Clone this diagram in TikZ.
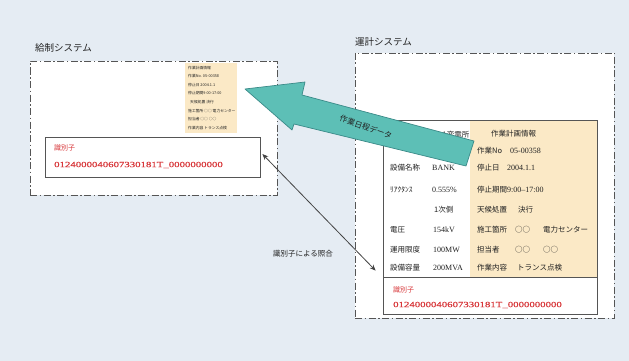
\documentclass[tikz,border=0pt]{standalone}
\usepackage{fontspec}
\setmainfont{Liberation Serif}
\newfontfamily\jp{Noto Sans CJK JP}
\newfontfamily\widenum[FakeStretch=1.35,FakeBold=0.6]{Liberation Serif}
\usetikzlibrary{arrows.meta}
\definecolor{bgc}{HTML}{E5ECF3}
\definecolor{framec}{HTML}{555555}
\definecolor{orangec}{HTML}{FBE9C6}
\definecolor{tealc}{HTML}{5DBFB6}
\definecolor{tealdark}{HTML}{3A8A88}
\definecolor{redc}{HTML}{D8373A}
\definecolor{txtc}{HTML}{222222}
\tikzset{
  panel/.style={draw=framec, fill=white, line width=0.8pt,
    dash pattern=on 7pt off 2.5pt on 1.5pt off 2.5pt, inner sep=0pt},
  solidbox/.style={draw=framec, line width=0.8pt, inner sep=0pt},
  orangebox/.style={fill=orangec, inner sep=0pt},
  title/.style={font=\jp\fontsize{9.5}{10}\selectfont, text=txtc, anchor=west, inner sep=0pt},
  lab/.style={font=\jp\fontsize{7.5}{8}\selectfont, text=txtc, anchor=west, inner sep=0pt},
  val/.style={font=\fontsize{8}{9}\selectfont, text=txtc, anchor=west, inner sep=0pt},
  tiny/.style={font=\jp\fontsize{3.8}{4}\selectfont, text=txtc, anchor=west, inner sep=0pt},
  idlab/.style={font=\jp\fontsize{7}{8}\selectfont, text=redc, anchor=west, inner sep=0pt},
  idnum/.style={font=\widenum\fontsize{8}{9}\selectfont, text=redc, anchor=west, inner sep=0pt},
  bigarrow/.style={fill=tealc, draw=tealdark, line width=0.7pt, line join=round},
  linkarrow/.style={draw=framec!80!black, line width=0.8pt, {Stealth[length=6pt,width=5pt]}-{Stealth[length=6pt,width=5pt]}},
}
\begin{document}
\begin{tikzpicture}[x=1pt,y=-1pt]
\useasboundingbox (0,0) rectangle (629,361);
\fill[bgc] (0,0) rectangle (629,361);

% panels
\node[panel, minimum width=247pt, minimum height=134pt] (lsys) at (153.5,128) {};
\node[panel, minimum width=259pt, minimum height=265pt] (rsys) at (484.5,185.5) {};
\node[title] (ltitle) at (35,48) {給制システム};
\node[title] (rtitle) at (355,42) {運計システム};

% left panel content
\node[orangebox, minimum width=52pt, minimum height=70pt] (lorange) at (211,98) {};
\node[tiny] (t1) at (188,68) {作業計画情報};
\node[tiny] (t2) at (188,76) {作業No. 05-00358};
\node[tiny] (t3) at (188,85) {停止日 2004.1.1};
\node[tiny] (t4) at (188,93) {停止期間9:00-17:00};
\node[tiny] (t5) at (190,102) {天候処置 決行};
\node[tiny] (t6) at (188,111) {施工箇所 ○○ 電力センター};
\node[tiny] (t7) at (188,119) {担当者 ○○ ○○};
\node[tiny] (t8) at (188,128) {作業内容 トランス点検};
\node[solidbox, fill=white, minimum width=215pt, minimum height=40pt] (lid) at (152.5,157) {};
\node[idlab] (lidl) at (54,148) {識別子};
\node[idnum] (lidn) at (54,165) {0124000040607330181T\_0000000000};

% right panel content
\node[orangebox, minimum width=127pt, minimum height=157pt] (rorange) at (533.5,198.5) {};
\node[solidbox, minimum width=214pt, minimum height=194pt] (rtable) at (490,217) {};
\node[solidbox, minimum width=214pt, minimum height=37pt] (rid) at (490,295.5) {};

\node[lab] (a0) at (442,135) {A変電所};
\node[lab] (a1) at (390,168) {設備名称};
\node[val] (b1) at (432,168) {BANK};
\node[lab] (a2) at (390,190) {ﾘｱｸﾀﾝｽ};
\node[val] (b2) at (432,190) {0.555\%};
\node[lab] (b3) at (434,210) {1次側};
\node[lab] (a4) at (390,230) {電圧};
\node[val] (b4) at (433,230) {154kV};
\node[lab] (a5) at (390,250) {運用限度};
\node[val] (b5) at (433,250) {100MW};
\node[lab] (a6) at (390,268) {設備容量};
\node[val] (b6) at (433,268) {200MVA};

\node[lab] (c0) at (491,134) {作業計画情報};
\node[lab] (c1) at (477,151) {作業No};
\node[val] (d1) at (510,151) {05-00358};
\node[lab] (c2) at (477,168) {停止日};
\node[val] (d2) at (507,168) {2004.1.1};
\node[lab] (c3) at (477,190) {停止期間};
\node[val] (d3) at (507,190) {9:00–17:00};
\node[lab] (c4) at (477,210) {天候処置};
\node[lab] (d4) at (518,210) {決行};
\node[lab] (c5) at (477,230) {施工箇所};
\node[lab] (d5) at (515,230) {○○};
\node[lab] (e5) at (543,230) {電力センター};
\node[lab] (c6) at (477,250) {担当者};
\node[lab] (d6) at (515,250) {○○};
\node[lab] (e6) at (543,250) {○○};
\node[lab] (c7) at (477,268) {作業内容};
\node[lab] (d7) at (517,268) {トランス点検};

\node[idlab] (ridl) at (393,290) {識別子};
\node[idnum] (ridn) at (393,305) {0124000040607330181T\_0000000000};

% big arrow
\draw[bigarrow] (245,89) -- (305,82) -- (302,95) -- (474,141) -- (466,166) -- (294,124) -- (292,130) -- cycle;
\node[lab, anchor=center, rotate=-19, font=\jp\fontsize{7.8}{8}\selectfont] (alab) at (366,127) {作業日程データ};

% link arrow
\draw[linkarrow] ([xshift=2pt,yshift=3pt]lid.east) -- ([xshift=-7pt,yshift=6pt]rid.north west);
\node[lab, anchor=center, font=\jp\fontsize{7.5}{8}\selectfont, text=txtc] (llab) at (303,254) {識別子による照合};
\end{tikzpicture}
\end{document}
